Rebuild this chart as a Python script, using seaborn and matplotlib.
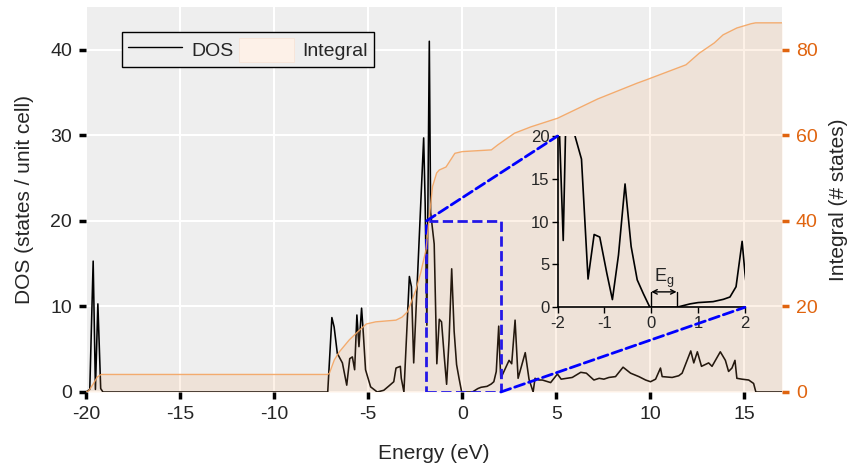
import numpy as np
import pandas as pd
import matplotlib
matplotlib.use('Agg')
import matplotlib.pyplot as plt
import seaborn as sns
from matplotlib.patches import Rectangle, ConnectionPatch, Patch
from matplotlib.lines import Line2D

# density of states
energy = [-20.00, -19.80, -19.62, -19.50, -19.37, -19.22, -19.10, -7.15, -6.93, -6.81,
          -6.64, -6.37, -6.14, -5.98, -5.84, -5.72, -5.60, -5.49, -5.35, -5.26,
          -5.14, -4.87, -4.52, -4.17, -3.90, -3.64, -3.52, -3.29, -3.24, -3.10,
          -2.81, -2.70, -2.58, -2.05, -1.97, -1.88, -1.75, -1.68, -1.49, -1.35,
          -1.22, -1.10, -0.95, -0.83, -0.70, -0.56, -0.43, -0.30, -0.17, -0.03,
          0.54, 0.83, 1.00, 1.32, 1.54, 1.68, 1.81, 1.94, 2.00, 2.05,
          2.49, 2.63, 2.81, 2.97, 3.35, 3.55, 3.77, 3.87, 4.08, 4.26,
          4.70, 5.06, 5.26, 5.85, 6.30, 6.60, 7.00, 7.28, 7.53, 7.80,
          8.15, 8.55, 8.95, 9.39, 9.75, 10.01, 10.28, 10.54, 10.63, 11.16,
          11.51, 11.69, 12.15, 12.31, 12.50, 12.72, 13.10, 13.28, 13.72, 13.99,
          14.16, 14.34, 14.50, 14.60, 14.87, 15.23, 15.49, 15.61, 17.00]
dos = [0.0, 0.3, 15.3, 0.3, 10.3, 0.4, 0.0, 0.0, 8.7, 7.6,
       4.5, 3.4, 0.8, 3.9, 4.1, 2.6, 9.0, 5.3, 9.8, 6.9,
       2.6, 0.6, 0.0, 0.2, 0.7, 1.2, 2.8, 3.0, 1.6, 0.0,
       13.5, 12.3, 3.4, 29.7, 22.0, 7.8, 41.0, 21.0, 17.3, 3.3,
       8.5, 8.2, 4.0, 0.9, 6.1, 14.4, 7.1, 3.2, 1.6, 0.0,
       0.0, 0.4, 0.55, 0.66, 0.93, 1.2, 2.4, 7.7, 4.0, 1.6,
       3.7, 3.3, 8.4, 1.6, 4.6, 1.5, 0.0, 1.6, 1.4, 1.4,
       1.1, 2.1, 1.5, 1.7, 2.3, 2.2, 1.4, 1.6, 1.5, 1.7,
       1.8, 2.9, 2.2, 1.8, 1.4, 1.2, 1.5, 2.8, 1.8, 1.7,
       1.9, 2.2, 4.8, 3.4, 4.7, 3.0, 3.4, 3.0, 4.7, 3.7,
       2.4, 2.8, 3.7, 1.6, 1.5, 1.4, 1.0, 0.0, 0.0]

# integrated number of states
energy_int = [-20.0, -19.85, -19.6, -19.4, -19.2, -7.15, -7.06, -6.8, -6.53, -6.0,
              -5.55, -5.1, -4.6, -3.52, -3.2, -2.9, -2.46, -2.2, -1.93, -1.8,
              -1.58, -1.36, -1.22, -0.86, -0.39, 0.0, 1.55, 1.9, 2.78, 3.66,
              5.07, 7.2, 9.3, 9.8, 11.0, 11.9, 12.6, 13.4, 13.87, 14.6,
              15.36, 15.6, 17.0]
integral = [0.0, 0.3, 2.0, 3.5, 4.1, 4.1, 4.4, 7.5, 9.4, 12.2,
            14.1, 15.9, 16.4, 16.8, 17.5, 18.8, 23.9, 28.0, 33.2, 38.7,
            48.0, 51.2, 51.9, 52.6, 55.8, 56.2, 56.6, 57.8, 60.5, 62.0,
            64.0, 68.5, 72.2, 73.0, 75.0, 76.5, 79.2, 81.6, 83.5, 85.1,
            86.1, 86.3, 86.3]

# zoomed window and band gap
zoom_x = (-1.9, 2.05)
zoom_y = (0, 20)
gap = (0.0, 0.54)

df = pd.DataFrame({'energy': energy, 'dos': dos})
df_int = pd.DataFrame({'energy': energy_int, 'integral': integral})

sns.set_style('darkgrid', {'axes.facecolor': '#eeeeee', 'grid.color': 'white'})
plt.rcParams['font.family'] = ['Liberation Sans', 'DejaVu Sans']
plt.rcParams['axes.unicode_minus'] = False

orange = '#f4a460'
tick_orange = '#e0640f'

fig = plt.figure(figsize=(8.5, 4.68), dpi=100)
ax = fig.add_axes([0.1012, 0.1624, 0.8188, 0.8226])
ax2 = ax.twinx()

sns.lineplot(data=df, x='energy', y='dos', ax=ax, color='black', lw=1.15, sort=False)
ax2.fill_between(df_int['energy'], df_int['integral'], color=orange, alpha=0.15, lw=0)
sns.lineplot(data=df_int, x='energy', y='integral', ax=ax2, color=orange, lw=1, alpha=0.9, sort=False)

ax.set_xlim(-20, 17)
ax.set_ylim(0, 45)
ax2.set_ylim(0, 90)
ax.set_xticks([-20, -15, -10, -5, 0, 5, 10, 15])
ax.set_yticks([0, 10, 20, 30, 40])
ax2.set_yticks([0, 20, 40, 60, 80])
ax2.grid(False)
ax.grid(True, color='white', lw=1.5)
for a in (ax, ax2):
    for s in a.spines.values():
        s.set_visible(False)
ax.tick_params(axis='both', which='major', direction='out', length=5, width=2.5,
               color='black', labelsize=14, pad=5)
ax.tick_params(axis='x', bottom=True)
ax.tick_params(axis='y', left=True)
ax2.tick_params(axis='y', right=True, direction='out', length=5, width=2.5,
                color=tick_orange, labelcolor=tick_orange, labelsize=14, pad=5)
ax.set_xlabel('Energy (eV)', fontsize=15, labelpad=15)
ax.set_ylabel('DOS (states / unit cell)', fontsize=15, labelpad=12)
ax2.set_ylabel('Integral (# states)', fontsize=15, labelpad=8)

handles = [Line2D([], [], color='black', lw=1),
           Patch(facecolor='#fdf1e8', edgecolor='#f8e4d6', lw=0.6)]
leg = ax2.legend(handles, ['DOS', 'Integral'], loc='upper left', bbox_to_anchor=(0.052, 0.935),
                 ncol=2, fontsize=14, frameon=True, fancybox=False, framealpha=1,
                 edgecolor='black', handlelength=2.8, handleheight=1.5, borderpad=0.3,
                 columnspacing=0.3, handletextpad=0.45, borderaxespad=0)
leg.get_frame().set_linewidth(1.0)

# zoom rectangle on main axes
rect = Rectangle((zoom_x[0], zoom_y[0]), zoom_x[1] - zoom_x[0], zoom_y[1] - zoom_y[0],
                 fill=False, edgecolor='blue', ls='--', lw=2, zorder=5)
ax.add_patch(rect)

# inset
axin = fig.add_axes([0.656, 0.3434, 0.2204, 0.366])
axin.set_facecolor('none')
sns.lineplot(data=df, x='energy', y='dos', ax=axin, color='black', lw=1.2, sort=False)
axin.set_xlim(-2, 2)
axin.set_ylim(0, 20)
axin.grid(False)
axin.set_xticks([-2, -1, 0, 1, 2])
axin.set_yticks([0, 5, 10, 15, 20])
axin.set_xlabel('')
axin.set_ylabel('')
for side in ('top', 'right'):
    axin.spines[side].set_visible(False)
for side in ('left', 'bottom'):
    axin.spines[side].set_visible(True)
    axin.spines[side].set_color('black')
    axin.spines[side].set_linewidth(1.2)
axin.tick_params(axis='both', direction='out', length=4, width=1, color='black',
                 labelsize=12, pad=2, left=True, bottom=True)

# band gap marker
axin.plot([gap[0], gap[0]], [0, 1.8], color='black', lw=1)
axin.plot([gap[1], gap[1]], [0, 1.8], color='black', lw=1)
axin.annotate('', xy=(gap[0], 1.8), xytext=(gap[1], 1.8),
              arrowprops=dict(arrowstyle='<->', color='black', lw=1, shrinkA=0, shrinkB=0,
                              mutation_scale=8))
axin.text((gap[0] + gap[1]) / 2, 2.0, 'E$_\\mathregular{g}$', ha='center', va='bottom', fontsize=13)

# connectors
c1 = ConnectionPatch(xyA=(zoom_x[0], zoom_y[1]), coordsA=ax.transData,
                     xyB=(-2, 20), coordsB=axin.transData,
                     color='blue', ls='--', lw=2)
c2 = ConnectionPatch(xyA=(zoom_x[1], zoom_y[0]), coordsA=ax.transData,
                     xyB=(2, 0), coordsB=axin.transData,
                     color='blue', ls='--', lw=2)
fig.add_artist(c1)
fig.add_artist(c2)

plt.savefig('out.png', dpi=100)
